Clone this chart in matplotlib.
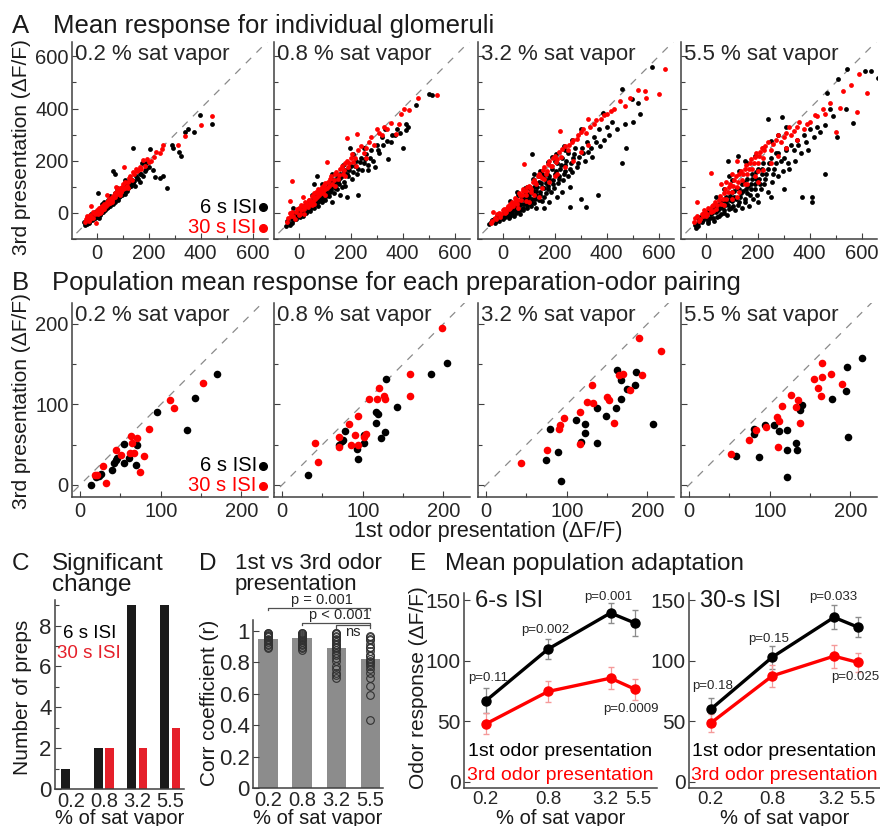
import matplotlib
matplotlib.use('Agg')
import matplotlib.pyplot as plt
import matplotlib.transforms as mtrans
import numpy as np
from matplotlib.ticker import MultipleLocator, FixedLocator, NullLocator

plt.rcParams['font.family'] = ['Liberation Sans', 'DejaVu Sans']
plt.rcParams['axes.linewidth'] = 1.1
plt.rcParams['text.color'] = '#1a1a1a'

# ---------------- data ----------------
conc_labels = ['0.2', '0.8', '3.2', '5.5']
conc_vals = [0.2, 0.8, 3.2, 5.5]
subtitles = ['0.2 % sat vapor', '0.8 % sat vapor', '3.2 % sat vapor', '5.5 % sat vapor']

# A: mean response of individual glomeruli, (1st, 3rd) presentation
glom_02_6s = [(-45, -45), (-40, -30), (-30, -38), (-25, -20), (-20, -5), (-15, -25), (-10, -12), (-5, 5),
              (0, -10), (5, 10), (8, -5), (12, 15), (15, 2), (18, 20), (20, 8), (25, 30), (28, 12), (30, 40),
              (32, 22), (35, 18), (40, 35), (42, 50), (45, 28), (48, 40), (50, 55), (55, 35), (58, 48), (60, 62),
              (65, 45), (68, 58), (70, 75), (75, 52), (78, 68), (80, 85), (85, 60), (88, 78), (92, 90), (95, 72),
              (100, 95), (105, 80), (110, 100), (115, 92), (120, 110), (125, 98), (130, 125), (140, 115),
              (150, 140), (160, 130), (5, 76), (63, 161), (69, 148), (138, 250), (205, 246), (172, 150),
              (185, 160), (200, 175), (215, 165), (226, 139), (242, 132), (255, 140), (272, 95), (290, 262),
              (294, 250), (318, 232), (325, 219), (339, 309), (375, 309), (396, 377), (443, 340), (350, 322),
              (175, 190), (190, 190), (-50, -35), (10, -20),
              (-38, -42), (-33, -28), (-28, -33), (-22, -14), (-18, -28), (-12, -3), (-7, -18), (-3, -8),
              (2, -14), (7, 3), (11, -8), (14, 9), (17, -2), (22, 14), (26, 4), (29, 26), (33, 11), (37, 30),
              (39, 19), (44, 22), (47, 34), (51, 26), (53, 44), (57, 41), (62, 36), (64, 55), (67, 49), (72, 43),
              (74, 66), (77, 59), (83, 51), (86, 72), (90, 64), (94, 84), (97, 67), (102, 86), (107, 74),
              (112, 106), (117, 84), (122, 95), (127, 115), (133, 104), (137, 128), (144, 122), (147, 105),
              (155, 135), (165, 150), (168, 120), (178, 140), (190, 170),
              (20, 35), (50, 65), (80, 95), (110, 125)]
glom_02_30s = [(-40, -25), (-36, -11), (-30, -30), (-20, -15), (-10, 0), (-3, -37), (0, 10), (5, -5), (10, 20),
               (15, 5), (20, 25), (25, 15), (30, 35), (35, 25), (40, 69), (45, 45), (50, 38), (55, 55), (60, 50),
               (65, 70), (70, 60), (80, 85), (85, 75), (90, 95), (95, 85), (100, 110), (105, 176), (110, 95),
               (120, 120), (130, 140), (140, 155), (150, 170), (160, 165), (177, 203), (185, 180), (203, 197),
               (220, 215), (245, 228), (255, 260), (312, 259), (339, 296), (401, 335), (444, 373), (75, 100),
               (-20, 25),
               (-44, -35), (-37, -20), (-27, -22), (-24, -8), (-16, -20), (-13, 2), (-6, -6), (3, 4), (8, 14),
               (12, 0), (17, 22), (22, 10), (27, 27), (33, 31), (38, 40), (43, 36), (47, 52), (52, 44), (57, 60),
               (62, 57), (67, 63), (72, 78), (77, 72), (82, 90), (88, 86), (93, 80), (98, 100), (103, 92),
               (108, 118), (115, 105), (125, 132), (135, 128), (145, 150), (155, 160), (165, 175), (172, 168),
               (195, 205), (210, 200), (230, 235), (250, 245),
               (30, 15), (60, 40), (90, 70), (120, 95)]
glom_08_6s = [(-50, -49), (-40, -35), (-30, -20), (-25, -40), (-15, -10), (-10, -25), (0, 0), (5, -15), (10, 15),
              (15, -5), (20, 10), (25, 30), (30, 5), (35, 20), (40, 45), (45, 15), (50, 35), (55, 55), (60, 30),
              (65, 50), (70, 70), (75, 40), (80, 60), (85, 85), (90, 55), (95, 75), (100, 95), (105, 65), (110, 90),
              (115, 110), (120, 80), (125, 100), (130, 125), (140, 95), (145, 120), (150, 140), (155, 110),
              (160, 135), (170, 150), (175, 120), (180, 165), (190, 140), (200, 180), (210, 155), (220, 200),
              (230, 170), (240, 210), (250, 190), (260, 225), (268, 164), (280, 240), (294, 177), (300, 260),
              (310, 230), (320, 290), (333, 322), (345, 208), (360, 300), (380, 320), (401, 247), (411, 340),
              (414, 317), (450, 412), (500, 457), (512, 452), (69, 142), (187, 62), (229, 68), (198, 248),
              (130, 40), (160, 70), (-20, 20), (60, 110),
              (-45, -30), (-35, -45), (-22, -28), (-18, -2), (-5, -12), (3, 8), (8, -8), (13, 2), (18, -12),
              (23, 18), (28, -2), (33, 12), (38, 28), (43, 8), (48, 22), (53, 40), (58, 18), (63, 37), (68, 55),
              (73, 28), (78, 48), (83, 70), (88, 42), (93, 62), (98, 80), (103, 50), (108, 75), (113, 98),
              (118, 66), (123, 88), (128, 112), (135, 78), (138, 105), (143, 130), (148, 92), (153, 122),
              (158, 150), (165, 100), (168, 140), (173, 160), (178, 105), (185, 150), (195, 165), (205, 130),
              (215, 180), (225, 150), (235, 195), (245, 165), (255, 205), (265, 185), (275, 210), (285, 200),
              (305, 240), (325, 260), (340, 275), (355, 270), (370, 300), (390, 305), (420, 330),
              (50, 70), (90, 110), (130, 150), (170, 185), (210, 225), (250, 250)]
glom_08_30s = [(-40, -20), (-32, 45), (-26, 123), (-20, -10), (-10, 5), (0, 20), (5, -5), (10, 30), (20, 15),
               (25, 40), (30, 25), (40, 50), (45, 35), (50, 65), (55, 45), (60, 75), (70, 60), (75, 90), (80, 70),
               (90, 100), (95, 80), (100, 115), (109, 194), (110, 95), (120, 130), (130, 110), (140, 150),
               (150, 130), (160, 170), (170, 150), (180, 190), (186, 287), (190, 175), (200, 210), (210, 195),
               (225, 303), (230, 240), (250, 230), (270, 270), (290, 260), (301, 322), (320, 300), (340, 320),
               (373, 303), (385, 340), (407, 400), (459, 442), (531, 452), (15, 60), (-35, 0),
               (-45, -35), (-30, -10), (-25, 5), (-15, -22), (-5, 15), (2, -8), (8, 10), (15, 25), (20, -3),
               (28, 38), (35, 22), (38, 48), (48, 45), (52, 30), (58, 62), (63, 55), (68, 80), (73, 68), (78, 82),
               (85, 92), (88, 75), (97, 108), (103, 90), (112, 120), (117, 102), (125, 140), (135, 128),
               (145, 158), (155, 145), (165, 180), (175, 165), (185, 200), (195, 190), (205, 225), (215, 210),
               (240, 255), (260, 250), (280, 290), (310, 305), (330, 330), (355, 345), (395, 380), (425, 395),
               (60, 35), (100, 70), (140, 105), (180, 140), (220, 180), (260, 210)]
glom_32_6s = [(-51, -42), (-45, -35), (-35, -25), (-25, -30), (-20, -10), (-10, -20), (0, -5), (5, 10), (10, -15),
              (20, 0), (25, 20), (30, -10), (40, 10), (45, 30), (50, 0), (55, 25), (60, 45), (65, 10), (70, 35),
              (75, 60), (80, 20), (85, 50), (90, 75), (95, 30), (100, 60), (105, 90), (110, 40), (113, 227),
              (115, 75), (120, 100), (125, 55), (130, 85), (140, 120), (145, 70), (150, 100), (155, 140),
              (160, 60), (165, 115), (170, 150), (175, 90), (180, 130), (190, 170), (195, 110), (200, 150),
              (210, 190), (215, 130), (220, 170), (230, 210), (235, 150), (240, 185), (250, 230), (257, 21),
              (260, 170), (270, 210), (280, 250), (290, 190), (302, 54), (310, 230), (320, 21), (325, 270),
              (340, 250), (350, 290), (366, 67), (370, 320), (385, 384), (400, 330), (420, 350), (458, 191),
              (458, 476), (475, 249), (498, 435), (520, 420), (575, 559), (180, 40), (230, 80), (130, 20),
              (-40, -28), (-30, -40), (-15, -30), (-5, -15), (2, -25), (8, 5), (15, -8), (18, 15), (23, -18),
              (28, 8), (35, -2), (38, 22), (43, -12), (48, 15), (53, 38), (58, 8), (63, 28), (68, -5), (72, 48),
              (78, 12), (83, 35), (88, 58), (92, 18), (98, 45), (103, 72), (108, 28), (112, 55), (118, 85),
              (122, 38), (128, 68), (133, 98), (138, 50), (143, 80), (148, 115), (153, 45), (158, 95), (163, 130),
              (168, 75), (173, 105), (178, 140), (185, 80), (192, 125), (198, 95), (205, 160), (212, 115),
              (218, 140), (225, 185), (232, 125), (238, 160), (245, 200), (252, 140), (262, 190), (268, 155),
              (275, 225), (285, 175), (295, 215), (305, 250), (315, 200), (330, 235), (345, 215), (360, 270),
              (375, 255), (390, 280), (410, 300), (440, 320), (470, 340), (500, 350), (530, 380), (210, 60),
              (260, 100), (160, 20), (150, 150), (95, 100), (200, 200), (240, 240), (140, 140),
              (30, 45), (60, 70), (85, 95), (115, 130), (145, 160), (175, 195), (205, 225), (235, 255),
              (265, 280), (300, 320), (190, 215), (120, 150), (55, 80)]
glom_32_30s = [(-45, -40), (-38, 5), (-30, -20), (-20, -5), (-10, -15), (0, 10), (10, 0), (15, 20), (25, 15),
               (30, 35), (40, 25), (50, 50), (55, 35), (65, 70), (70, 50), (80, 85), (82, 188), (90, 70),
               (100, 105), (110, 90), (120, 125), (130, 110), (140, 150), (150, 135), (160, 175), (170, 160),
               (180, 200), (190, 180), (200, 220), (210, 205), (222, 313), (230, 245), (250, 240), (270, 280),
               (290, 300), (310, 320), (327, 361), (350, 340), (380, 360), (400, 380), (430, 400), (470, 410),
               (546, 467), (553, 441), (600, 454), (626, 550), (140, 60), (100, 40),
               (-40, -30), (-25, -25), (-15, 0), (-5, -5), (5, 15), (12, 5), (20, 28), (28, 18), (35, 40),
               (45, 38), (48, 58), (58, 48), (62, 75), (75, 68), (78, 90), (88, 85), (95, 98), (105, 100),
               (115, 118), (125, 118), (135, 142), (145, 140), (155, 165), (165, 150), (175, 188), (185, 178),
               (195, 210), (205, 195), (215, 232), (225, 215), (240, 258), (255, 262), (265, 270), (285, 285),
               (300, 310), (320, 305), (335, 330), (360, 355), (390, 375), (415, 390), (450, 430), (490, 440),
               (520, 470),
               (60, 20), (90, 45), (120, 70), (150, 95), (180, 120), (210, 150), (240, 175), (270, 200),
               (300, 235), (330, 260), (160, 130), (110, 80), (200, 140)]
glom_55_6s = [(-36, -57), (-30, -40), (-25, -25), (-15, -35), (-10, -10), (0, -20), (5, 5), (10, -30), (20, -5),
              (25, 15), (30, -20), (40, 5), (45, 30), (50, -10), (55, 20), (60, 45), (70, 0), (75, 30), (80, 60),
              (85, 200), (90, 15), (95, 50), (100, 80), (105, 25), (110, 60), (120, 95), (126, 217), (130, 40),
              (135, 75), (140, 110), (150, 55), (155, 90), (160, 130), (170, 70), (175, 110), (180, 150),
              (190, 90), (195, 130), (200, 170), (210, 110), (215, 150), (220, 190), (230, 130), (239, 358),
              (240, 170), (250, 210), (260, 150), (270, 190), (280, 230), (293, 368), (300, 210), (310, 250),
              (320, 170), (340, 240), (350, 280), (370, 60), (380, 300), (400, 320), (408, 60), (408, 40),
              (430, 330), (459, 150), (466, 458), (480, 400), (504, 291), (508, 514), (539, 398), (543, 553),
              (565, 343), (611, 544), (637, 544), (662, 518), (250, 60), (300, 90), (200, 40),
              (-40, -45), (-28, -50), (-20, -15), (-12, -28), (-5, 0), (3, -12), (8, -38), (15, 10), (18, -20),
              (27, 5), (32, -32), (37, 18), (42, -15), (48, 10), (52, 35), (58, -5), (62, 22), (67, 50), (72, 12),
              (78, 40), (82, -8), (87, 30), (92, 65), (97, 20), (102, 45), (108, 85), (112, 10), (117, 55),
              (123, 30), (128, 90), (133, 60), (138, 20), (143, 85), (148, 120), (153, 40), (158, 75), (163, 105),
              (168, 25), (173, 90), (178, 130), (183, 55), (188, 110), (193, 155), (198, 70), (205, 130),
              (212, 90), (218, 170), (225, 110), (232, 150), (238, 80), (245, 190), (255, 120), (263, 170),
              (270, 230), (278, 140), (288, 200), (298, 160), (308, 240), (318, 190), (330, 260), (345, 200),
              (355, 260), (365, 230), (385, 270), (395, 240), (415, 290), (440, 310), (460, 335), (490, 370),
              (40, 60), (70, 90), (100, 125), (130, 160), (160, 190), (190, 220), (220, 250), (250, 275),
              (280, 300), (310, 330), (90, 140), (150, 200)]
glom_55_30s = [(-40, -20), (-32, 40), (-25, -30), (-15, -5), (-5, 10), (0, -10), (10, 20), (20, 153), (20, 5),
               (30, 30), (40, 15), (50, 50), (60, 35), (70, 75), (80, 55), (90, 100), (100, 80), (110, 125),
               (120, 100), (130, 150), (140, 125), (150, 170), (160, 150), (170, 190), (180, 170), (190, 215),
               (200, 190), (210, 235), (220, 210), (230, 255), (250, 240), (270, 280), (290, 270), (310, 305),
               (330, 300), (350, 330), (380, 320), (400, 350), (430, 370), (460, 380), (502, 309), (518, 403),
               (527, 467), (559, 489), (581, 386), (588, 531), (620, 458), (120, 200), (60, 110),
               (-45, -35), (-35, -10), (-20, -22), (-10, -12), (-2, 5), (5, -5), (15, 15), (25, 25), (28, 8),
               (35, 40), (45, 30), (55, 65), (65, 55), (75, 90), (85, 80), (95, 110), (105, 105), (115, 140),
               (125, 120), (135, 160), (145, 150), (155, 185), (165, 170), (175, 205), (185, 190), (195, 230),
               (205, 220), (215, 250), (225, 240), (240, 270), (260, 265), (280, 300), (300, 290), (320, 330),
               (340, 315), (360, 350), (390, 340), (420, 375), (450, 400), (480, 420), (100, 150), (80, 120),
               (150, 110), (200, 160),
               (70, 30), (100, 55), (130, 80), (160, 110), (190, 140), (220, 165), (250, 190), (280, 220),
               (310, 250), (350, 280), (120, 60), (200, 120)]

# B: population mean for each preparation-odor pairing
prep_02_6s = [(13, 0), (20, 9.5), (23, 11.6), (26, 14), (40, 18.6), (42, 27), (45, 31), (46, 33), (54, 27),
              (55, 51), (61, 34), (69, 25), (71, 50), (96, 91), (133, 68), (143, 108), (170, 138)]
prep_02_30s = [(18, 12), (21, 12), (28, 23.5), (32, 2), (45, 44), (51, 37), (62, 40), (63, 61), (65, 52),
               (67, 40), (71, 58), (74, 16.5), (79, 36), (85, 69), (112, 105), (117, 95), (152, 126)]
prep_08_6s = [(32, 12), (70, 50), (74, 54), (76, 56), (78, 67), (93, 45), (94, 32), (101, 52.5), (102, 62),
              (116, 90), (119, 88), (116, 77), (123, 58), (127, 66), (129, 131), (143, 97), (185, 138), (205, 151)]
prep_08_30s = [(41, 52.5), (45, 28), (70, 47), (70, 59), (82.5, 76), (85, 50), (90, 62), (94, 86), (94, 50),
               (102, 60), (104, 63), (108, 107), (118, 107), (120, 121), (126, 111), (127, 107), (158, 138),
               (159, 110), (198, 195)]
prep_32_6s = [(74, 31), (79, 69), (89, 40.5), (93, 5), (111, 80.6), (118, 53), (123, 75.6), (123, 65), (138, 52),
              (138, 95), (149, 86), (161, 95), (162, 142.6), (166.7, 107), (167, 130.6), (175, 119), (185, 124),
              (186, 140.5), (207, 75.6)]
prep_32_30s = [(43, 27.7), (75, 43), (90, 70), (92, 75), (97, 82.6), (116, 91), (116, 51), (125, 103), (131, 124),
               (133, 102), (150.4, 109.5), (153, 105), (159, 77), (164.6, 137), (170, 138), (179, 118), (189, 183),
               (193, 136), (217.5, 166)]
prep_55_6s = [(58, 36), (80.5, 70), (81, 63), (87, 35), (94, 75), (105, 74), (112, 67), (121, 68), (121, 43),
              (122, 10), (133, 52), (134, 43), (137, 93), (140, 99), (177, 107), (194, 116.5), (196, 146), (197, 59),
              (215, 158)]
prep_55_30s = [(52, 38), (74, 56), (83, 68), (96, 72), (109, 84), (110, 47.5), (112, 80), (115.4, 98), (126, 112),
               (133, 97), (135, 105), (138, 77), (155, 132), (160, 120), (163, 111), (165, 134), (165, 152),
               (176, 138), (189, 125)]

# C: number of preps with significant change
sig_6s = [1, 2, 9, 9]
sig_30s = [0, 2, 2, 3]

# D: correlation between 1st and 3rd presentation
corr_mean = [0.95, 0.953, 0.893, 0.82]
corr_02 = [0.99, 0.985, 0.98, 0.975, 0.97, 0.965, 0.96, 0.95, 0.945, 0.94, 0.93, 0.92, 0.91, 0.90, 0.89]
corr_08 = [0.99, 0.985, 0.98, 0.975, 0.97, 0.96, 0.955, 0.95, 0.94, 0.93, 0.92, 0.91, 0.90, 0.89, 0.88]
corr_32 = [0.99, 0.985, 0.98, 0.97, 0.96, 0.95, 0.94, 0.93, 0.92, 0.91, 0.90, 0.89, 0.88, 0.86, 0.85, 0.83,
           0.81, 0.78, 0.76, 0.73, 0.72, 0.70]
corr_55 = [0.97, 0.96, 0.95, 0.94, 0.92, 0.90, 0.89, 0.87, 0.85, 0.84, 0.82, 0.81, 0.80, 0.79, 0.78, 0.76,
           0.73, 0.70, 0.65, 0.59, 0.43]
corr_tests = [(1, 4, 'p = 0.001'), (2, 4, 'p < 0.001'), (3, 4, 'ns')]

# E: mean population adaptation
isi6_first = [66.9, 109.7, 139.5, 131.2]
isi6_first_err = [10.4, 8.6, 8.3, 10.5]
isi6_third = [47.8, 74.6, 85.6, 76.5]
isi6_third_err = [8.6, 8.6, 9.0, 8.8]
isi6_p = ['p=0.11', 'p=0.002', 'p=0.001', 'p=0.0009']
isi30_first = [59.8, 103.0, 135.9, 127.7]
isi30_first_err = [9.5, 9.5, 10.0, 8.4]
isi30_third = [48.4, 87.5, 103.8, 98.6]
isi30_third_err = [7.5, 9.0, 9.5, 8.0]
isi30_p = ['p=0.18', 'p=0.15', 'p=0.033', 'p=0.025']

# ---------------- figure ----------------
W, H = 880, 826
fig = plt.figure(figsize=(W / 100, H / 100), dpi=100)
SP = '#404040'
RED = '#ff0000'


def px_axes(l, t, r, b):
    ax = fig.add_axes([l / W, 1 - b / H, (r - l) / W, (b - t) / H])
    for s in ['top', 'right']:
        ax.spines[s].set_visible(False)
    for s in ['left', 'bottom']:
        ax.spines[s].set_color(SP)
    ax.tick_params(which='both', direction='in', color=SP, width=0.8, pad=2.5)
    ax.tick_params(which='major', length=4)
    ax.tick_params(which='minor', length=3)
    return ax


def ftext(x, y, s, **kw):
    fig.text(x / W, 1 - y / H, s, **kw)


def scatter_row(top, bottom, sets, lim_x, lim_y, major, minor, dot, leg_y):
    lefts = [72, 274, 478, 681]
    for i, (black, red) in enumerate(sets):
        ax = px_axes(lefts[i], top, lefts[i] + 196, bottom)
        ax.plot([-200, 800], [-200, 800], color='#8a8a8a', lw=0.9, dashes=(6, 6), zorder=1)
        b = np.array(black)
        r = np.array(red)
        ax.scatter(b[:, 0], b[:, 1], s=dot, color='black', lw=0, zorder=2)
        ax.scatter(r[:, 0], r[:, 1], s=dot, color=RED, lw=0, zorder=3)
        ax.set_xlim(*lim_x)
        ax.set_ylim(*lim_y)
        ax.xaxis.set_major_locator(MultipleLocator(major))
        ax.yaxis.set_major_locator(MultipleLocator(major))
        ax.xaxis.set_minor_locator(MultipleLocator(minor))
        ax.yaxis.set_minor_locator(MultipleLocator(minor))
        ax.tick_params(labelsize=14.5, labelcolor='#262626')
        ax.tick_params(axis='x', pad=3.5)
        if i > 0:
            ax.tick_params(labelleft=False)
        ax.text(0.015, 0.99, subtitles[i], transform=ax.transAxes, ha='left', va='top',
                fontsize=16, color='#262626')
        if i == 0:
            for txt, col, yy in [('6 s ISI', 'black', leg_y[0]), ('30 s ISI', RED, leg_y[1])]:
                ax.text(0.943, yy, txt, transform=ax.transAxes, ha='right', va='center',
                        fontsize=14.5, color=col)
                ax.plot([0.972], [yy], 'o', ms=5.5, color=col, transform=ax.transAxes, clip_on=False)


# ---- A ----
ftext(12, 33, 'A', fontsize=18.5, va='baseline')
ftext(53, 33, 'Mean response for individual glomeruli', fontsize=18.5, va='baseline')
scatter_row(42, 239,
            [(glom_02_6s, glom_02_30s), (glom_08_6s, glom_08_30s),
             (glom_32_6s, glom_32_30s), (glom_55_6s, glom_55_30s)],
            (-95, 659), (-100, 655), 200, 100, 12, (0.16, 0.058))
ftext(22, 147, '3rd presentation (\u0394F/F)', fontsize=15, rotation=90, ha='center', va='center')

# ---- B ----
ftext(12, 290, 'B', fontsize=18.5, va='baseline')
ftext(52, 290, 'Population mean response for each preparation-odor pairing', fontsize=18.5, va='baseline')
scatter_row(303, 497,
            [(prep_02_6s, prep_02_30s), (prep_08_6s, prep_08_30s),
             (prep_32_6s, prep_32_30s), (prep_55_6s, prep_55_30s)],
            (-10, 233), (-15, 226), 100, 50, 30, (0.161, 0.058))
ftext(22, 401, '3rd presentation (\u0394F/F)', fontsize=15, rotation=90, ha='center', va='center')
ftext(488, 532, '1st odor presentation (\u0394F/F)', fontsize=15.5, ha='center', va='center')

# ---- C ----
ftext(12, 570, 'C', fontsize=17.5, va='baseline')
ftext(52, 570, 'Significant', fontsize=17.5, va='baseline')
ftext(52, 591, 'change', fontsize=17.5, va='baseline')
axc = px_axes(55, 600, 184, 789)
xc = np.arange(1, 5)
axc.bar(xc - 0.17, sig_6s, width=0.26, color='#1a1a1a')
axc.bar(xc + 0.17, sig_30s, width=0.26, color='#e5202a')
axc.set_xlim(0.52, 4.41)
axc.set_ylim(0, 9.25)
axc.set_xticks(xc, conc_labels)
axc.yaxis.set_major_locator(MultipleLocator(2))
axc.yaxis.set_minor_locator(MultipleLocator(1))
axc.tick_params(axis='y', labelsize=16, labelcolor='#262626')
axc.tick_params(axis='x', labelsize=14.5, labelcolor='#262626', length=0, pad=2)
ftext(63, 633, '6 s ISI', fontsize=13.5, va='center', color='black')
ftext(57, 654, '30 s ISI', fontsize=13.5, va='center', color='#e5202a')
ftext(22, 697, 'Number of preps', fontsize=15, rotation=90, ha='center', va='center')
ftext(120, 809, '% of sat vapor', fontsize=14.5, ha='center', va='top')

# ---- D ----
ftext(199, 570, 'D', fontsize=17.5, va='baseline')
ftext(235, 569, '1st vs 3rd odor', fontsize=16, va='baseline')
ftext(235, 590, 'presentation', fontsize=16, va='baseline')
axd = px_axes(253, 620, 383, 788)
xd = np.arange(1, 5)
axd.bar(xd, corr_mean, width=0.57, color='#8c8c8c', zorder=1)
for x, pts in zip(xd, [corr_02, corr_08, corr_32, corr_55]):
    axd.plot([x] * len(pts), pts, 'o', ms=5.5, mfc='none', mec='#303030', mew=0.8, zorder=2, clip_on=False)
axd.set_xlim(0.56, 4.37)
axd.set_ylim(0, 1.07)
axd.set_xticks(xd, conc_labels)
axd.set_yticks([0, 0.2, 0.4, 0.6, 0.8, 1.0], ['0', '0.2', '0.4', '0.6', '0.8', '1'])
axd.tick_params(axis='y', labelsize=16, labelcolor='#262626')
axd.tick_params(axis='x', labelsize=14.5, labelcolor='#262626', length=0, pad=2)
bracket_y = [1.149, 1.053, 1.036]
label_pos = [(2.57, 1.195), (3.11, 1.104), (3.49, 0.993)]
for (x1, x2, lab), by, (tx, ty) in zip(corr_tests, bracket_y, label_pos):
    axd.plot([x1, x1, x2, x2], [by - 0.015, by, by, by - 0.015], color='#505050', lw=0.9, clip_on=False)
    axd.text(tx, ty, lab, ha='center', va='center', fontsize=10.5, color='#262626')
ftext(209, 703, 'Corr coefficient (r)', fontsize=15, rotation=90, ha='center', va='center')
ftext(318, 809, '% of sat vapor', fontsize=14.5, ha='center', va='top')

# ---- E ----
ftext(410, 570, 'E', fontsize=17.5, va='baseline')
ftext(445, 570, 'Mean population adaptation', fontsize=17.5, va='baseline')
ftext(418, 688, 'Odor response (\u0394F/F)', fontsize=15, rotation=90, ha='center', va='center')

e_panels = [
    (464, 657, '6-s ISI', 475, isi6_first, isi6_first_err, isi6_third, isi6_third_err, isi6_p,
     [(2, 23), (-3, 19), (-2, 16), (-4, -20)], [0, 0, -5, 3]),
    (689, 880, '30-s ISI', 700, isi30_first, isi30_first_err, isi30_third, isi30_third_err, isi30_p,
     [(2, 23), (-4, 18), (-1, 20), (-3, -15)], [0, 0, -3, 4]),
]
for l, r, name, name_x, first, ferr, third, terr, pv, offs, lab_shift in e_panels:
    ax = px_axes(l, 593, r, 788)
    ax.errorbar(conc_vals, first, yerr=ferr, color='black', lw=2.4, marker='o', ms=6.5,
                ecolor='#8c8c8c', elinewidth=0.9, capsize=2, zorder=3)
    ax.errorbar(conc_vals, third, yerr=terr, color=RED, lw=2.4, marker='o', ms=6.5,
                ecolor='#f59a9a', elinewidth=0.9, capsize=2, zorder=3)
    ax.set_xscale('log')
    ax.set_xlim(0.123, 9.0)
    ax.set_ylim(-5.2, 156)
    ax.xaxis.set_major_locator(FixedLocator(conc_vals))
    ax.xaxis.set_minor_locator(NullLocator())
    ax.set_xticklabels(conc_labels)
    ax.set_yticks([0, 50, 100, 150])
    ax.tick_params(axis='y', labelsize=15, labelcolor='#262626')
    ax.tick_params(axis='x', labelsize=13.5, labelcolor='#262626', length=0, pad=2)
    for lab, dx in zip(ax.get_xticklabels(), lab_shift):
        lab.set_transform(lab.get_transform() + mtrans.ScaledTranslation(dx / 100, 0, fig.dpi_scale_trans))
    for i, lab in enumerate(pv):
        anchor = third[i] if offs[i][1] < 0 else first[i]
        ax.annotate(lab, xy=(conc_vals[i], anchor), xytext=offs[i], textcoords='offset pixels',
                    ha='center', va='center', fontsize=9.5, color='#262626')
    cx = (l + r) / 2
    ftext(name_x, 607, name, fontsize=17, va='baseline')
    ftext(cx, 752, '1st odor presentation', fontsize=14, ha='center', va='center', color='black')
    ftext(cx, 775, '3rd odor presentation', fontsize=14, ha='center', va='center', color=RED)
    ftext(cx, 809, '% of sat vapor', fontsize=14.5, ha='center', va='top')

fig.savefig('out.png', dpi=100, facecolor='white')
